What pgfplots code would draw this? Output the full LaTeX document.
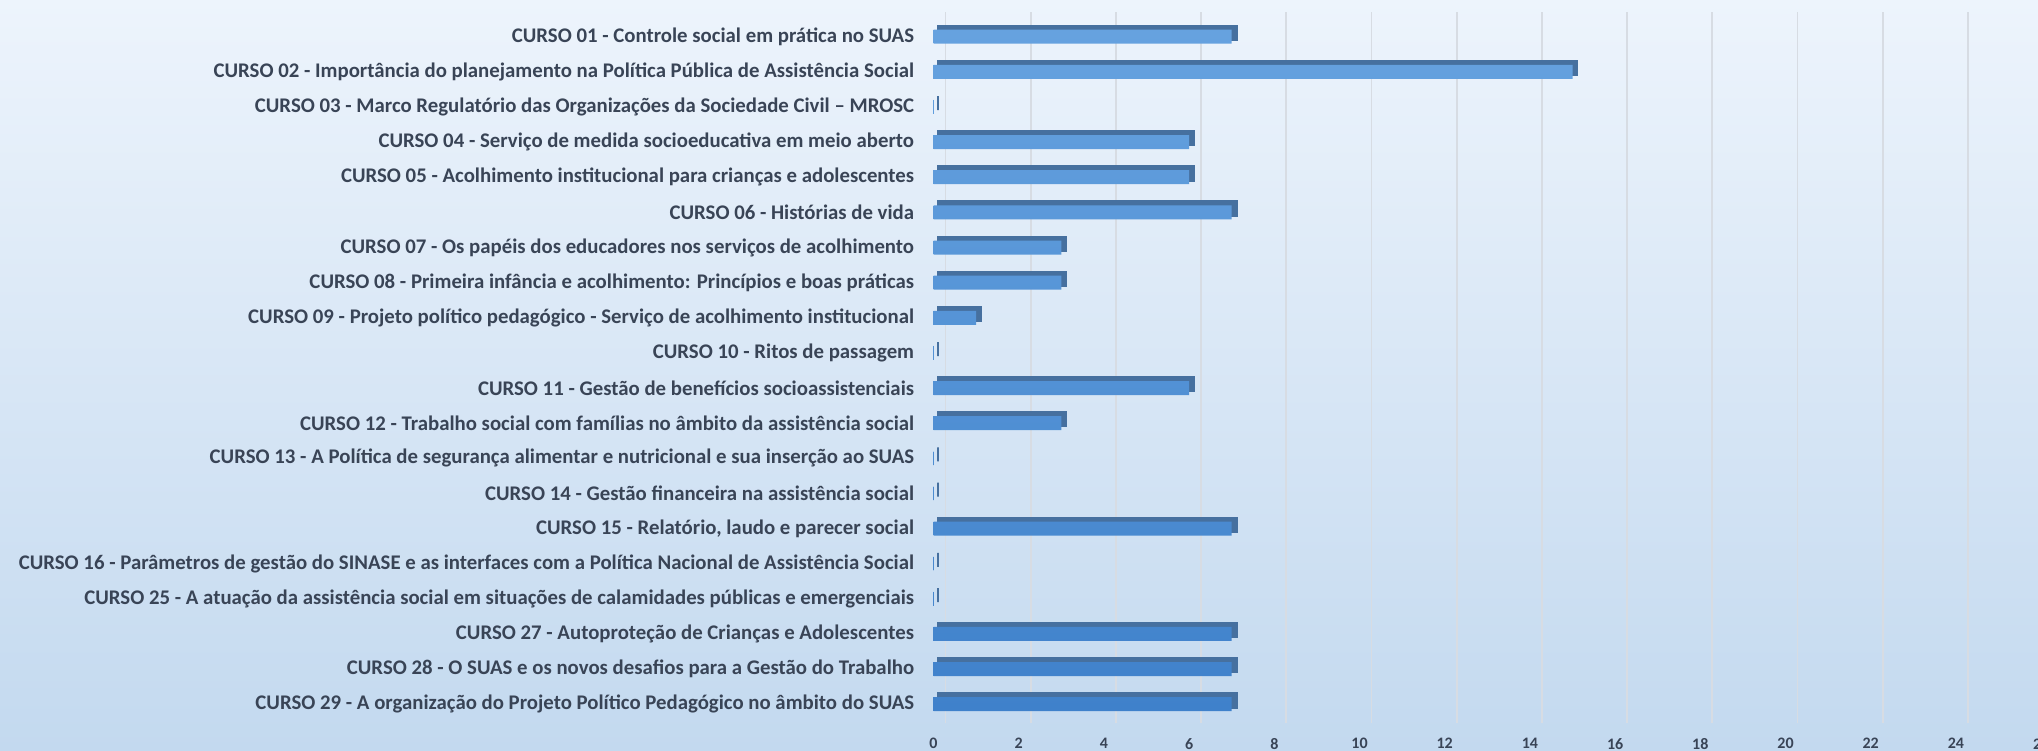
\documentclass[border=0pt]{standalone}
\usepackage{pgfplots}
\pgfplotsset{compat=1.18}
\usepackage{fontspec}
\setmainfont{Carlito}
\definecolor{bgTop}{HTML}{EDF4FC}
\definecolor{bgBot}{HTML}{C3D9EF}
\definecolor{barTop}{HTML}{66A2DF}
\definecolor{barBot}{HTML}{3F81CB}
\definecolor{backC}{HTML}{46709F}
\definecolor{textC}{HTML}{394456}
\definecolor{gridC}{HTML}{D7DCE3}
\begin{document}
\begin{tikzpicture}
\shade[top color=bgTop, bottom color=bgBot] (0,0) rectangle (1019pt,375pt);
\begin{axis}[
  at={(466.75pt,22.9pt)}, anchor=origin,
  x=21.3pt, y=17.565pt,
  xmin=0, xmax=26, ymin=-0.535, ymax=19.7,
  axis line style={draw=none},
  xtick={0,2,...,26},
  extra x ticks={0}, extra x tick labels={},
  extra x tick style={grid=major, major grid style={draw=gridC, line width=0.9pt}},
  xmajorgrids, major grid style={draw=gridC, line width=0.9pt, xshift=6pt},
  tick style={draw=none},
  ytick={0,...,19},
  yticklabels={
    {CURSO 29 - A organização do Projeto Político Pedagógico no âmbito do SUAS},
    {CURSO 28 - O SUAS e os novos desafios para a Gestão do Trabalho},
    {CURSO 27 - Autoproteção de Crianças e Adolescentes},
    {CURSO 25 - A atuação da assistência social em situações de calamidades públicas e emergenciais},
    {CURSO 16 - Parâmetros de gestão do SINASE e as interfaces com a Política Nacional de Assistência Social},
    {CURSO 15 - Relatório, laudo e parecer social},
    {CURSO 14 - Gestão financeira na assistência social},
    {CURSO 13 - A Política de segurança alimentar e nutricional e sua inserção ao SUAS},
    {CURSO 12 - Trabalho social com famílias no âmbito da assistência social},
    {CURSO 11 - Gestão de benefícios socioassistenciais},
    {CURSO 10 - Ritos de passagem},
    {CURSO 09 - Projeto político pedagógico - Serviço de acolhimento institucional},
    {CURSO 08 - Primeira infância e acolhimento: Princípios e boas práticas},
    {CURSO 07 - Os papéis dos educadores nos serviços de acolhimento},
    {CURSO 06 - Histórias de vida},
    {CURSO 05 - Acolhimento institucional para crianças e adolescentes},
    {CURSO 04 - Serviço de medida socioeducativa em meio aberto},
    {CURSO 03 - Marco Regulatório das Organizações da Sociedade Civil – MROSC},
    {CURSO 02 - Importância do planejamento na Política Pública de Assistência Social},
    {CURSO 01 - Controle social em prática no SUAS}},
  yticklabel style={anchor=east, inner sep=0pt, xshift=-9.5pt, text=textC,
    font=\fontsize{10.4}{12}\selectfont\bfseries},
  xticklabel style={anchor=north, inner sep=0pt, yshift=-7.5pt, text=textC,
    font=\fontsize{8}{10}\selectfont\bfseries},
  /pgf/number format/assume math mode=true,
]
\addplot[xbar, bar width=7pt, bar shift=0pt, xshift=2.4pt, yshift=1.9pt,
  fill=backC, draw=backC, line width=1.1pt] coordinates {
  (7,0) (7,1) (7,2) (0,3) (0,4) (7,5) (0,6) (0,7) (3,8) (6,9)
  (0,10) (1,11) (3,12) (3,13) (7,14) (6,15) (6,16) (0,17) (15,18) (7,19)};
\addplot[xbar, bar width=7pt, bar shift=0pt, draw=none,
  top color=barTop, bottom color=barBot] coordinates {
  (7,0) (7,1) (7,2) (0,3) (0,4) (7,5) (0,6) (0,7) (3,8) (6,9)
  (0,10) (1,11) (3,12) (3,13) (7,14) (6,15) (6,16) (0,17) (15,18) (7,19)};
\end{axis}
\pgfresetboundingbox
\path (0,0) rectangle (1019pt,375pt);
\end{tikzpicture}
\end{document}
